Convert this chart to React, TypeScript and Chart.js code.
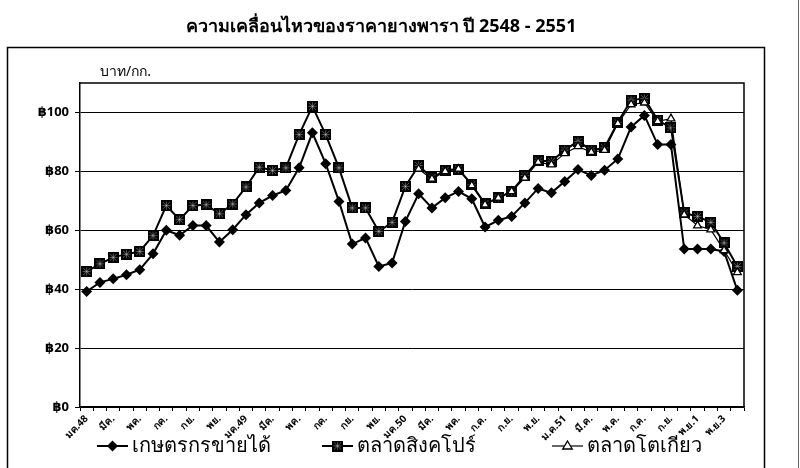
import React, { useEffect, useRef } from "react";
import { Chart, registerables } from "chart.js";

Chart.register(...registerables);

const chartTitle = "ความเคลื่อนไหวของราคายางพารา ปี 2548 - 2551";
const yUnit = "บาท/กก.";

const categories = [
  "มค.48", "กพ.", "มีค.", "เมย.", "พค.", "มิย.", "กค.", "สค.", "กย.", "ตค.", "พย.", "ธค.",
  "มค.49", "กพ.", "มีค.", "เมย.", "พค.", "มิย.", "กค.", "สค.", "กย.", "ตค.", "พย.", "ธค.",
  "มค.50", "กพ.", "มีค.", "เมย.", "พค.", "มิ.ย.", "ก.ค.", "ส.ค.", "ก.ย.", "ต.ค.", "พ.ย.", "ธ.ค.",
  "ม.ค.51", "ก.พ.", "มี.ค.", "เม.ย.", "พ.ค.", "มิ.ย.", "ก.ค.", "ส.ค.", "ก.ย.", "ต.ค.",
  "พ.ย.1", "พ.ย.2", "พ.ย.3", "พ.ย.4",
];

const seriesNames = ["เกษตรกรขายได้", "ตลาดสิงคโปร์", "ตลาดโตเกียว"];

const farmerPrices = [
  39.2, 42.3, 43.5, 44.9, 46.6, 52.0, 60.0, 58.3, 61.6, 61.6, 56.0, 60.2,
  65.3, 69.3, 71.8, 73.5, 81.2, 93.1, 82.6, 69.8, 55.3, 57.4, 47.7, 48.9,
  63.0, 72.4, 67.6, 71.0, 73.2, 70.7, 61.1, 63.4, 64.7, 69.3, 74.2, 72.7,
  76.6, 80.6, 78.6, 80.4, 84.2, 95.1, 99.0, 89.1, 89.1, 53.6,
  53.6, 53.6, 52.8, 39.6,
];

const singaporePrices = [
  46.0, 48.6, 50.8, 51.9, 52.8, 58.2, 68.4, 63.6, 68.4, 68.7, 65.6, 68.9,
  74.7, 81.4, 80.3, 81.2, 92.5, 102.1, 92.5, 81.2, 67.6, 67.6, 59.6, 62.7,
  74.9, 82.0, 77.8, 80.4, 80.8, 75.5, 69.0, 71.0, 73.2, 78.6, 83.6, 83.4,
  87.2, 90.2, 87.2, 88.0, 96.7, 104.2, 104.7, 97.4, 94.8, 65.9,
  64.7, 62.7, 55.7, 47.7,
];

const tokyoPrices = [
  null, null, null, null, null, null, null, null, null, null, null, null,
  null, null, null, null, null, null, null, null, null, null, null, null,
  null, 80.8, 77.4, 80.0, 80.8, 75.2, 68.7, 71.0, 73.2, 77.8, 83.1, 82.3,
  86.1, 88.5, 86.5, 87.2, 96.3, 102.7, 103.3, 97.0, 97.9, 65.3,
  61.6, 60.2, 53.2, 45.7,
];

const yTickValues = [0, 20, 40, 60, 80, 100];
const yMax = 110;

const FONT = "'Noto Sans', 'DejaVu Sans', sans-serif";

function makeSquareMarker(): HTMLCanvasElement {
  const c = document.createElement("canvas");
  c.width = 11;
  c.height = 11;
  const g = c.getContext("2d")!;
  g.fillStyle = "#000";
  g.fillRect(0, 0, 11, 11);
  g.strokeStyle = "rgba(255,255,255,0.35)";
  g.lineWidth = 1;
  g.beginPath();
  g.moveTo(2, 2); g.lineTo(9, 9);
  g.moveTo(9, 2); g.lineTo(2, 9);
  g.moveTo(5.5, 1.5); g.lineTo(5.5, 9.5);
  g.moveTo(1.5, 5.5); g.lineTo(9.5, 5.5);
  g.stroke();
  return c;
}

function drawDiamond(ctx: CanvasRenderingContext2D, x: number, y: number, r: number) {
  ctx.beginPath();
  ctx.moveTo(x, y - r);
  ctx.lineTo(x + r, y);
  ctx.lineTo(x, y + r);
  ctx.lineTo(x - r, y);
  ctx.closePath();
  ctx.fillStyle = "#000";
  ctx.fill();
}

function drawTriangle(ctx: CanvasRenderingContext2D, x: number, y: number, r: number) {
  ctx.beginPath();
  ctx.moveTo(x, y - r);
  ctx.lineTo(x + r * 0.95, y + r * 0.6);
  ctx.lineTo(x - r * 0.95, y + r * 0.6);
  ctx.closePath();
  ctx.fillStyle = "#fff";
  ctx.fill();
  ctx.strokeStyle = "#000";
  ctx.lineWidth = 1.3;
  ctx.stroke();
}

const decorPlugin = {
  id: "decor",
  beforeDraw(chart: any) {
    const ctx = chart.ctx as CanvasRenderingContext2D;
    ctx.save();
    ctx.fillStyle = "#fff";
    ctx.fillRect(0, 0, chart.width, chart.height);
    ctx.strokeStyle = "#000";
    ctx.lineWidth = 1.5;
    ctx.strokeRect(7.5, 47.5, 757, 430);
    ctx.strokeStyle = "#666";
    ctx.lineWidth = 1;
    ctx.beginPath();
    ctx.moveTo(798.5, 0);
    ctx.lineTo(798.5, 468);
    ctx.stroke();
    ctx.fillStyle = "#000";
    ctx.textAlign = "center";
    ctx.textBaseline = "middle";
    ctx.font = `bold 18px ${FONT}`;
    ctx.fillText(chartTitle, 381, 27);
    ctx.textAlign = "left";
    ctx.font = `14px ${FONT}`;
    ctx.fillText(yUnit, 100, 72);
    ctx.restore();
  },
  afterDraw(chart: any) {
    const ctx = chart.ctx as CanvasRenderingContext2D;
    const a = chart.chartArea;
    ctx.save();
    ctx.strokeStyle = "#000";
    ctx.lineWidth = 1.5;
    ctx.beginPath();
    ctx.moveTo(a.left, a.top);
    ctx.lineTo(a.right, a.top);
    ctx.lineTo(a.right, a.bottom);
    ctx.stroke();

    const ly = 446;
    const items = [
      { x: 97, name: seriesNames[0], kind: "diamond" },
      { x: 322, name: seriesNames[1], kind: "square" },
      { x: 552, name: seriesNames[2], kind: "triangle" },
    ];
    const sq = chart.options.plugins.decor.square as HTMLCanvasElement;
    items.forEach((it) => {
      ctx.strokeStyle = "#000";
      ctx.lineWidth = it.kind === "triangle" ? 1.2 : 2;
      ctx.beginPath();
      ctx.moveTo(it.x, ly);
      ctx.lineTo(it.x + 31, ly);
      ctx.stroke();
      const cx = it.x + 15.5;
      if (it.kind === "diamond") drawDiamond(ctx, cx, ly, 5.5);
      else if (it.kind === "square") ctx.drawImage(sq, cx - 5.5, ly - 5.5);
      else drawTriangle(ctx, cx, ly, 5);
      ctx.fillStyle = "#000";
      ctx.textAlign = "left";
      ctx.textBaseline = "middle";
      ctx.font = `20px ${FONT}`;
      ctx.fillText(it.name, it.x + 35, ly);
    });
    ctx.restore();
  },
};

export default function App() {
  const ref = useRef<HTMLCanvasElement | null>(null);

  useEffect(() => {
    if (!ref.current) return;
    const square = makeSquareMarker();
    const chart = new Chart(ref.current, {
      type: "line",
      data: {
        labels: categories,
        datasets: [
          {
            label: seriesNames[0],
            data: farmerPrices,
            borderColor: "#000",
            backgroundColor: "#000",
            borderWidth: 2,
            pointStyle: "rectRot",
            pointRadius: 5.5,
            pointBorderWidth: 0,
            pointBackgroundColor: "#000",
            tension: 0,
            order: 2,
          },
          {
            label: seriesNames[1],
            data: singaporePrices,
            borderColor: "#000",
            backgroundColor: "#000",
            borderWidth: 2,
            pointStyle: square as any,
            pointRadius: 5.5,
            tension: 0,
            order: 1,
          },
          {
            label: seriesNames[2],
            data: tokyoPrices,
            borderColor: "#000",
            backgroundColor: "#fff",
            borderWidth: 1.2,
            pointStyle: "triangle",
            pointRadius: 4.5,
            pointBorderWidth: 1.3,
            pointBorderColor: "#000",
            pointBackgroundColor: "#fff",
            tension: 0,
            spanGaps: false,
            order: 0,
          },
        ],
      },
      options: {
        animation: false,
        responsive: false,
        events: [],
        layout: { padding: { top: 83, right: 56, left: 0, bottom: 0 } },
        plugins: {
          legend: { display: false },
          title: { display: false },
          tooltip: { enabled: false },
          decor: { square } as any,
        } as any,
        scales: {
          x: {
            type: "category",
            offset: true,
            afterFit: (s: any) => { s.height = 61; },
            grid: {
              display: true,
              drawOnChartArea: false,
              drawTicks: true,
              tickLength: 4,
              color: "#000",
              offset: true,
            },
            border: { display: true, color: "#000", width: 1.5 },
            ticks: {
              autoSkip: false,
              maxRotation: 45,
              minRotation: 45,
              padding: 2,
              color: "#000",
              font: { family: FONT, size: 10, weight: "bold" },
              callback: (_v: any, i: number) => (i % 2 === 0 ? categories[i] : ""),
            },
          },
          y: {
            min: 0,
            max: yMax,
            afterFit: (s: any) => { s.width = 80; },
            afterBuildTicks: (s: any) => {
              s.ticks = yTickValues.map((v) => ({ value: v }));
            },
            grid: {
              color: "#000",
              lineWidth: 1,
              drawTicks: true,
              tickLength: 5,
            },
            border: { display: true, color: "#000", width: 1.5 },
            ticks: {
              padding: 6,
              color: "#000",
              font: { family: FONT, size: 13, weight: "bold" },
              callback: (v: any) => "฿" + v,
            },
          },
        },
      },
      plugins: [decorPlugin],
    });
    return () => chart.destroy();
  }, []);

  return (
    <div style={{ position: "fixed", left: 0, top: 0, width: 800, height: 468, background: "#fff" }}>
      <canvas ref={ref} width={800} height={468} style={{ display: "block", width: 800, height: 468 }} />
    </div>
  );
}
